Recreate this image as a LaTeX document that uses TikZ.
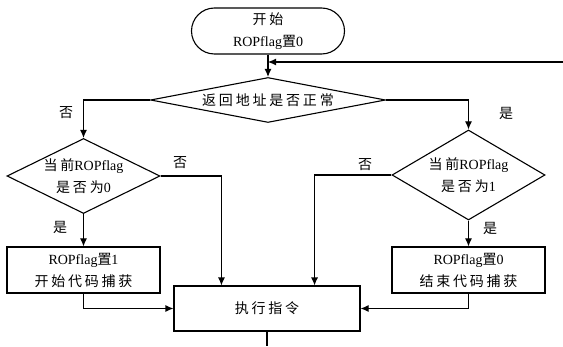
\documentclass[tikz,border=0pt]{standalone}
\usepackage{fontspec}
\setmainfont{Liberation Serif}
\newfontfamily\cjk[LetterSpace=20]{Noto Sans CJK SC}
\newcommand{\zh}[1]{{\cjk #1}}
\usetikzlibrary{arrows.meta,positioning,shapes.geometric}

\begin{document}
\begin{tikzpicture}[
    x=1pt, y=1pt,
    on grid,
    >={Latex[length=8pt,width=7pt]},
    line width=1.1pt,
    font=\fontsize{14}{22}\selectfont,
    terminal/.style={
		rectangle,
		rounded corners=23pt,
		draw=black,
		align=center,
		minimum width=153pt,
		minimum height=46pt
	},
    decision/.style={
		diamond,
		draw=black,
		align=center,
		aspect=2,
		inner sep=-3pt,
		minimum width=153pt
	},
    process/.style={
		rectangle,
		draw=black,
		align=center,
		minimum width=153pt,
		minimum height=46pt
	},
    answer/.style={
		inner sep=0pt
	}
  ]
    \useasboundingbox (0,0) rectangle (563,346);

    % We start by placing the blocks
    \node [terminal] (start) at (268,315) {\zh{开始}\\ROPflag\zh{置}0};

    \node [decision, aspect=5.2, inner sep=0pt, minimum width=235pt,
           minimum height=45pt, below=69pt of start] (dec)
    {\zh{返回地址是否正常}};

    \node [decision, minimum height=75pt, below=76pt of dec, xshift=-184.5pt] (test0)
    {\zh{当前}ROPflag\\\zh{是否为}0};

    \node [decision, minimum height=90pt, below=75pt of dec, xshift=200.5pt] (test1)
    {\zh{当前}ROPflag\\\zh{是否为}1};

    \node [process, below=94pt of test0] (set1)
    {ROPflag\zh{置}1\\\zh{开始代码捕获}};

    \node [process, below=95pt of test1] (set0)
    {ROPflag\zh{置}0\\\zh{结束代码捕获}};

    \node [process, minimum width=186pt, minimum height=45pt,
           below=208.5pt of dec, xshift=-1pt] (exec)
    {\zh{执行指令}};

    % answers
    \node [answer] (decno)   at (66,233)  {\zh{否}};
    \node [answer] (decyes)  at (506,233) {\zh{是}};
    \node [answer] (test0yes) at (60,119) {\zh{是}};
    \node [answer] (test0no) at (180,183) {\zh{否}};
    \node [answer] (test1no) at (365,181) {\zh{否}};
    \node [answer] (test1yes) at (490,118) {\zh{是}};

    \coordinate (loop) at (563,284);
    \coordinate (exit) at (267,0);

    % connectors
    \draw [->] (start) -- (dec);
    \draw [->] (loop) -- (loop -| start.south);
    \draw [->] (dec.west) -| (test0.north);
    \draw [->] (dec.east) -| (test1.north);
    \draw [->] (test0) -- (set1);
    \draw [->] (test1) -- (set0);
    \draw [->] (test0.east) -| ([xshift=48pt]exec.north west);
    \draw [->] (test1.west) -| ([xshift=-46pt]exec.north east);
    \draw [->] (set1.south) |- (exec.west);
    \draw [->] (set0.south) |- (exec.east);
    \draw (exec) -- (exit);

\end{tikzpicture}
\end{document}
